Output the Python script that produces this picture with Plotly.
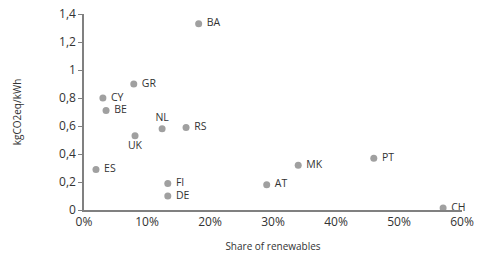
import plotly.graph_objects as go

countries = ["BA", "GR", "CY", "BE", "NL", "RS", "UK", "ES", "FI", "DE", "AT", "MK", "PT", "CH"]
share_renewables = [0.182, 0.079, 0.030, 0.035, 0.124, 0.162, 0.081, 0.019, 0.133, 0.133, 0.290, 0.340, 0.460, 0.570]
kgco2_kwh = [1.33, 0.90, 0.80, 0.71, 0.58, 0.59, 0.53, 0.29, 0.19, 0.10, 0.18, 0.32, 0.37, 0.015]
label_pos = ["middle right"] * len(countries)
label_pos[countries.index("NL")] = "top center"
label_pos[countries.index("UK")] = "bottom center"

fig = go.Figure(go.Scatter(
    x=share_renewables, y=kgco2_kwh, mode="markers+text",
    text=[" " + c if p == "middle right" else c for c, p in zip(countries, label_pos)],
    textposition=label_pos,
    textfont=dict(family="Open Sans, Liberation Sans, sans-serif", size=10.5, color="#333333"),
    marker=dict(size=7, color="#a0a0a0"),
    cliponaxis=False, showlegend=False,
))

fig.update_layout(
    width=488, height=278, separators=", ",
    margin=dict(l=84, r=26, t=14, b=68),
    paper_bgcolor="white", plot_bgcolor="white",
    font=dict(family="Open Sans, Liberation Sans, sans-serif", color="#333333", size=12),
)
fig.update_xaxes(
    range=[0, 0.6], tickvals=[0, 0.1, 0.2, 0.3, 0.4, 0.5, 0.6], tickformat=".0%",
    showgrid=False, zeroline=False, showline=True, linecolor="#808080", linewidth=1.5,
    ticks="", tickfont=dict(size=12), automargin=False, ticklabeloverflow="allow",
    title=dict(text="Share of renewables", font=dict(size=10), standoff=14),
)
fig.update_yaxes(
    range=[0, 1.4], tickvals=[0, 0.2, 0.4, 0.6, 0.8, 1.0, 1.2, 1.4],
    ticktext=["0", "0,2", "0,4", "0,6", "0,8", "1", "1,2", "1,4"],
    showgrid=False, zeroline=False, showline=True, linecolor="#808080", linewidth=1.5,
    ticks="outside", ticklen=4, tickcolor="#808080", tickfont=dict(size=12), automargin=False,
    ticklabeloverflow="allow",
    title=dict(text="kgCO2eq/kWh", font=dict(size=10), standoff=36),
)

fig.write_html("out.html", config={"displayModeBar": False},
               post_script="document.body.style.margin='0';")
